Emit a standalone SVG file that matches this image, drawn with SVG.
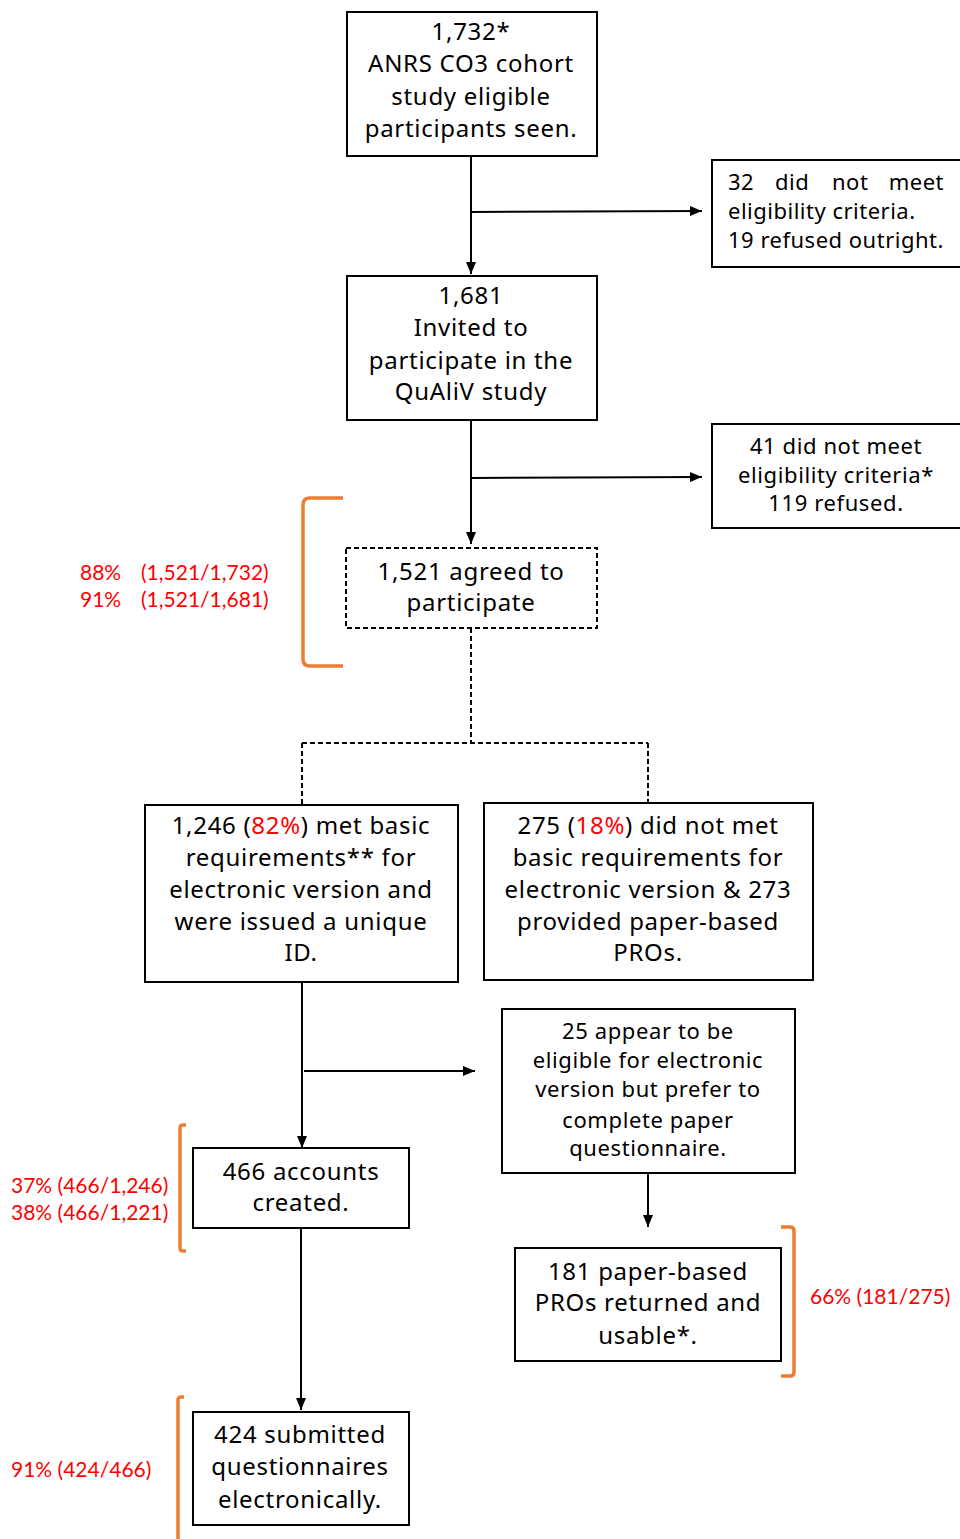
<svg xmlns="http://www.w3.org/2000/svg" width="960" height="1539" viewBox="0 0 960 1539">
<defs>
<marker id="arr" markerWidth="12" markerHeight="10" refX="12" refY="5" orient="auto" markerUnits="userSpaceOnUse">
<path d="M0,0 L12,5 L0,10 Z" fill="#000"/>
</marker>
<style>
.box{fill:#fff;stroke:#000;stroke-width:2}
.dbox{fill:#fff;stroke:#000;stroke-width:2;stroke-dasharray:5,3}
.t{font-family:"Noto Sans","Open Sans",sans-serif;font-size:24px;letter-spacing:0.7px;fill:#000;text-anchor:middle}
.tl{font-family:"Noto Sans","Open Sans",sans-serif;font-size:22px;letter-spacing:0.5px;fill:#000}
.s{font-size:22px;letter-spacing:0.6px}
.r{fill:#ff0000}
.pct{font-family:"Lato","Liberation Sans",sans-serif;font-size:21px;fill:#ff0000}
.ln{stroke:#000;stroke-width:2;fill:none}
.dl{stroke:#000;stroke-width:2;fill:none;stroke-dasharray:5,3}
.br{stroke:#ED7D31;stroke-width:3.5;fill:none}
</style>
</defs>
<rect width="960" height="1539" fill="#fff"/>

<g id="connectors">
<line class="ln" x1="471" y1="156" x2="471" y2="274" marker-end="url(#arr)"/>
<line class="ln" x1="471" y1="212" x2="702" y2="211" marker-end="url(#arr)"/>
<line class="ln" x1="471" y1="420" x2="471" y2="544" marker-end="url(#arr)"/>
<line class="ln" x1="471" y1="478" x2="702" y2="477" marker-end="url(#arr)"/>
<path class="dl" d="M471,628 V743 M302,743 H648 M302,743 V805 M648,743 V803"/>
<line class="ln" x1="302" y1="982" x2="302" y2="1148" marker-end="url(#arr)"/>
<line class="ln" x1="304" y1="1071" x2="475" y2="1071" marker-end="url(#arr)"/>
<line class="ln" x1="648" y1="1173" x2="648" y2="1227" marker-end="url(#arr)"/>
<line class="ln" x1="301" y1="1228" x2="301" y2="1410" marker-end="url(#arr)"/>
</g>

<g id="brackets">
<path class="br" d="M343,498 H310 Q303,498 303,505 V659 Q303,666 310,666 H343"/>
<path class="br" d="M186,1125 H183 Q180,1125 180,1128 V1248 Q180,1251 183,1251 H186"/>
<path class="br" d="M781,1227 H790 Q794,1227 794,1231 V1372 Q794,1376 790,1376 H781"/>
<path class="br" d="M184,1397 H181 Q178,1397 178,1400 V1539"/>
</g>

<g id="pct-labels">
<text class="pct" x="80" y="580">88%<tspan x="141">(1,521/1,732)</tspan></text>
<text class="pct" x="80" y="607">91%<tspan x="141">(1,521/1,681)</tspan></text>
<text class="pct" x="11" y="1193">37% (466/1,246)</text>
<text class="pct" x="11" y="1220">38% (466/1,221)</text>
<text class="pct" x="810" y="1304">66% (181/275)</text>
<text class="pct" x="11" y="1477">91% (424/466)</text>
</g>

<g id="n1">
<rect class="box" x="347" y="12" width="250" height="144"/>
<text class="t" x="471" y="40">1,732*</text>
<text class="t" x="471" y="72">ANRS CO3 cohort</text>
<text class="t" x="471" y="105">study eligible</text>
<text class="t" x="471" y="137">participants seen.</text>
</g>

<g id="n2">
<rect class="box" x="712" y="160" width="250" height="107"/>
<text class="tl" y="190"><tspan x="728">32</tspan><tspan x="775">did</tspan><tspan x="832">not</tspan><tspan x="944" text-anchor="end">meet</tspan></text>
<text class="tl" x="728" y="219">eligibility criteria.</text>
<text class="tl" x="728" y="248">19 refused outright.</text>
</g>

<g id="n3">
<rect class="box" x="347" y="276" width="250" height="144"/>
<text class="t" x="471" y="304">1,681</text>
<text class="t" x="471" y="336">Invited to</text>
<text class="t" x="471" y="369">participate in the</text>
<text class="t" x="471" y="400">QuAliV study</text>
</g>

<g id="n4">
<rect class="box" x="712" y="424" width="250" height="104"/>
<text class="t s" x="836" y="454">41 did not meet</text>
<text class="t s" x="836" y="483">eligibility criteria*</text>
<text class="t s" x="836" y="511">119 refused.</text>
</g>

<g id="n5">
<rect class="dbox" x="346" y="548" width="251" height="80"/>
<text class="t" x="471" y="580">1,521 agreed to</text>
<text class="t" x="471" y="611">participate</text>
</g>

<g id="n6">
<rect class="box" x="145" y="805" width="313" height="177"/>
<text class="t" x="301" y="834">1,246 (<tspan class="r">82%</tspan>) met basic</text>
<text class="t" x="301" y="866">requirements** for</text>
<text class="t" x="301" y="898">electronic version and</text>
<text class="t" x="301" y="930">were issued a unique</text>
<text class="t" x="301" y="961">ID.</text>
</g>

<g id="n7">
<rect class="box" x="484" y="803" width="329" height="177"/>
<text class="t" x="648" y="834">275 (<tspan class="r">18%</tspan>) did not met</text>
<text class="t" x="648" y="866">basic requirements for</text>
<text class="t" x="648" y="898">electronic version &amp; 273</text>
<text class="t" x="648" y="930">provided paper-based</text>
<text class="t" x="648" y="961">PROs.</text>
</g>

<g id="n8">
<rect class="box" x="502" y="1009" width="293" height="164"/>
<text class="t s" x="648" y="1039">25 appear to be</text>
<text class="t s" x="648" y="1068">eligible for electronic</text>
<text class="t s" x="648" y="1097">version but prefer to</text>
<text class="t s" x="648" y="1128">complete paper</text>
<text class="t s" x="648" y="1156">questionnaire.</text>
</g>

<g id="n9">
<rect class="box" x="515" y="1248" width="266" height="113"/>
<text class="t" x="648" y="1280">181 paper-based</text>
<text class="t" x="648" y="1311">PROs returned and</text>
<text class="t" x="648" y="1344">usable*.</text>
</g>

<g id="n10">
<rect class="box" x="193" y="1148" width="216" height="80"/>
<text class="t" x="301" y="1180">466 accounts</text>
<text class="t" x="301" y="1211">created.</text>
</g>

<g id="n11">
<rect class="box" x="193" y="1412" width="216" height="113"/>
<text class="t" x="300" y="1443">424 submitted</text>
<text class="t" x="300" y="1475">questionnaires</text>
<text class="t" x="300" y="1508">electronically.</text>
</g>
</svg>
